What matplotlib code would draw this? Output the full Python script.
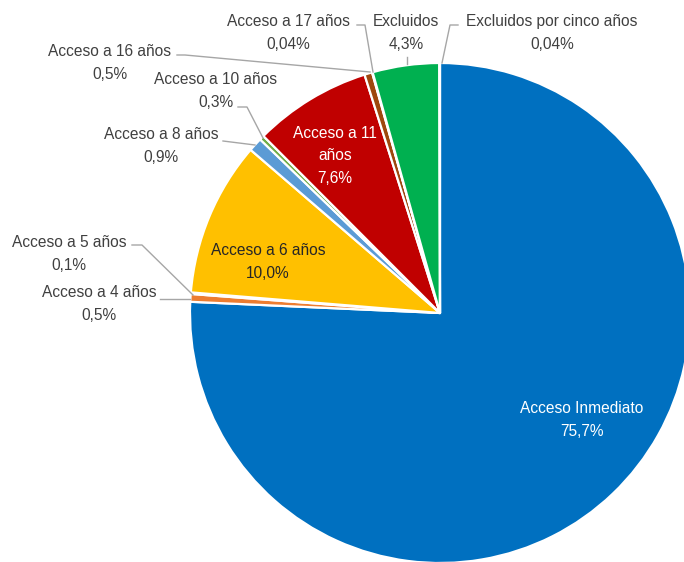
import matplotlib
matplotlib.use('Agg')
import matplotlib.pyplot as plt

# data
categorias = ['Acceso Inmediato', 'Acceso a 4 años', 'Acceso a 5 años', 'Acceso a 6 años',
              'Acceso a 8 años', 'Acceso a 10 años', 'Acceso a 11 años', 'Acceso a 16 años',
              'Acceso a 17 años', 'Excluidos', 'Excluidos por cinco años']
valores = [75.7, 0.5, 0.1, 10.0, 0.9, 0.3, 7.6, 0.5, 0.04, 4.3, 0.04]
etiquetas = ['Acceso Inmediato\n75,7%', 'Acceso a 4 años\n0,5%', 'Acceso a 5 años\n0,1%',
             'Acceso a 6 años\n10,0%', 'Acceso a 8 años\n0,9%', 'Acceso a 10 años\n0,3%',
             'Acceso a 11\naños\n7,6%', 'Acceso a 16 años\n0,5%', 'Acceso a 17 años\n0,04%',
             'Excluidos\n4,3%', 'Excluidos por cinco años\n0,04%']
colores = ['#0070C0', '#ED7D31', '#A5A5A5', '#FFC000', '#5B9BD5', '#70AD47',
           '#C00000', '#9E480E', '#7F6000', '#00B050', '#264478']

W, H = 684, 562

# label positions (pixels, from top-left) and text colours
pos = [(582, 420), (99, 304), (69, 254), (268, 262), (161, 146), (216, 91),
       (335, 156), (110, 63), (288, 33), (406, 33), (552, 33)]
txt_col = ['white', '#404040', '#404040', '#262626', '#404040', '#404040',
           'white', '#404040', '#404040', '#404040', '#404040']

# leader lines (pixels)
leaders = {
    1: [(160, 299), (190, 299)],
    2: [(132, 245), (142, 245), (193, 295)],
    4: [(223, 141), (255, 145)],
    5: [(238, 107), (247, 107), (263, 138)],
    7: [(177, 55), (185, 55), (370, 72)],
    8: [(357, 25), (365, 25), (373, 72)],
    9: [(407, 57), (407, 64)],
    10: [(458, 25), (450, 25), (442, 63)],
}

fig = plt.figure(figsize=(W / 100, H / 100), dpi=100)
ax = fig.add_axes([0, 0, 1, 1])

ax.pie(valores, colors=colores, startangle=90, counterclock=False,
       center=(440, H - 313), radius=250, frame=True,
       wedgeprops=dict(edgecolor='white', linewidth=1.6))

fam = ['Liberation Sans', 'DejaVu Sans']
for i, lab in enumerate(etiquetas):
    x, y = pos[i]
    ax.text(x, H - y, lab, ha='center', va='center', color=txt_col[i],
            fontsize=11.2, family=fam, linespacing=1.6)

for i, pts in leaders.items():
    ax.plot([p[0] for p in pts], [H - p[1] for p in pts], color='#A6A6A6', lw=1)

ax.set_xlim(0, W)
ax.set_ylim(0, H)
ax.set_aspect('equal')
ax.axis('off')

fig.savefig('out.png', dpi=100)
